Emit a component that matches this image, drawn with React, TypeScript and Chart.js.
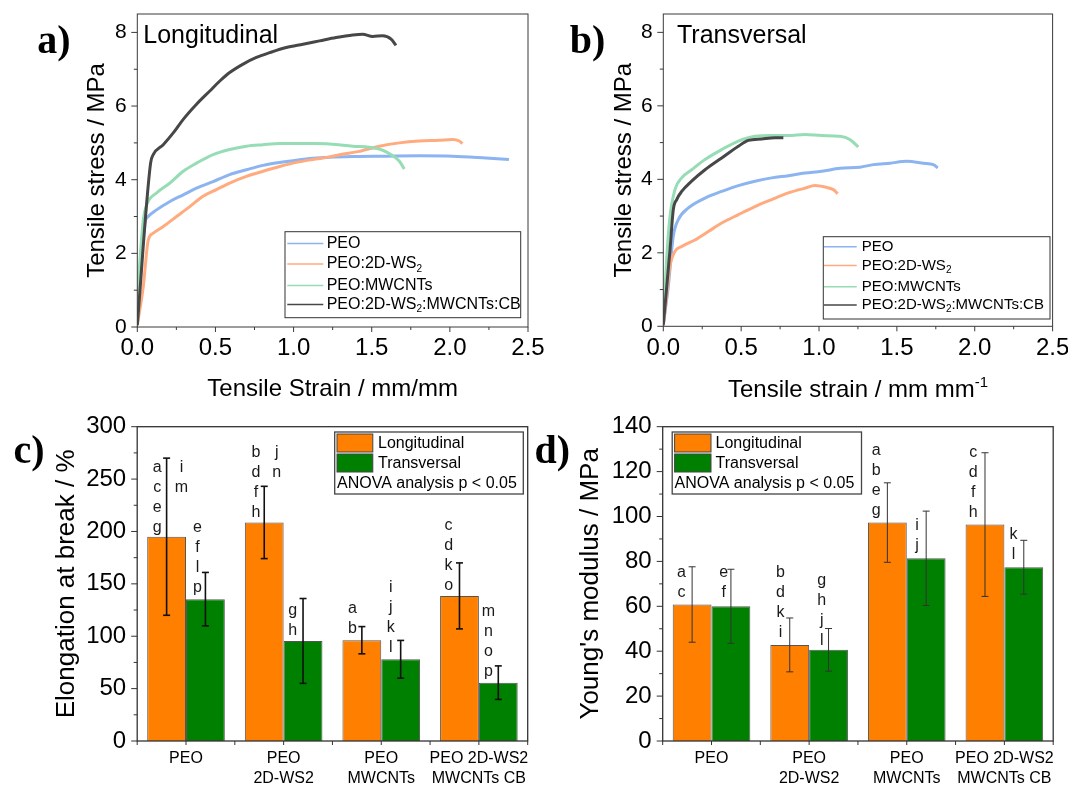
import React, { useEffect, useRef } from 'react';
import { Chart, registerables } from 'chart.js';

Chart.register(...registerables);

const SANS = "'Liberation Sans', Arial, Helvetica, sans-serif";
const SERIF = "'Liberation Serif', 'Times New Roman', Times, serif";
Chart.defaults.font.family = SANS;
Chart.defaults.color = '#000';

// ---------- Panels a & b : stress-strain curves [strain (mm/mm), stress (MPa)] ----------
const seriesNames = ['PEO', 'PEO:2D-WS2', 'PEO:MWCNTs', 'PEO:2D-WS2:MWCNTs:CB'];

const aPEO: number[][] = [[0, 0.27], [0.049, 2.82], [0.07, 3.0], [0.123, 3.18], [0.209, 3.41], [0.294, 3.59], [0.379, 3.77], [0.485, 3.95], [0.591, 4.14], [0.698, 4.27], [0.804, 4.39], [0.911, 4.47], [1.017, 4.53], [1.123, 4.58], [1.23, 4.61], [1.379, 4.63], [1.59, 4.64], [1.804, 4.65], [2.017, 4.64], [2.23, 4.59], [2.378, 4.55]];
const aWS2: number[][] = [[0, 0.05], [0.038, 1.09], [0.07, 2.36], [0.102, 2.55], [0.166, 2.73], [0.251, 3.0], [0.336, 3.27], [0.421, 3.55], [0.506, 3.73], [0.591, 3.91], [0.698, 4.09], [0.804, 4.23], [0.911, 4.36], [1.017, 4.47], [1.123, 4.55], [1.23, 4.62], [1.294, 4.68], [1.421, 4.77], [1.549, 4.91], [1.677, 5.0], [1.804, 5.05], [1.932, 5.07], [2.017, 5.09], [2.06, 5.05], [2.08, 4.98]];
const aMW: number[][] = [[0, 0.8], [0.02, 2.0], [0.038, 2.9], [0.06, 3.32], [0.123, 3.64], [0.209, 3.91], [0.294, 4.23], [0.379, 4.45], [0.485, 4.68], [0.591, 4.82], [0.698, 4.91], [0.804, 4.95], [0.911, 4.98], [1.017, 4.98], [1.123, 4.98], [1.23, 4.97], [1.379, 4.91], [1.485, 4.88], [1.57, 4.8], [1.624, 4.68], [1.677, 4.5], [1.708, 4.29]];
const aCB: number[][] = [[0, 0.05], [0.085, 4.45], [0.102, 4.68], [0.166, 4.95], [0.23, 5.27], [0.294, 5.64], [0.379, 6.05], [0.464, 6.41], [0.528, 6.68], [0.591, 6.91], [0.677, 7.14], [0.762, 7.32], [0.847, 7.45], [0.953, 7.59], [1.06, 7.68], [1.166, 7.77], [1.272, 7.86], [1.379, 7.93], [1.442, 7.95], [1.506, 7.89], [1.57, 7.91], [1.624, 7.82], [1.655, 7.65]];

const bPEO: number[][] = [[0, 0.04], [0.032, 1.08], [0.064, 2.45], [0.096, 2.9], [0.161, 3.22], [0.268, 3.49], [0.375, 3.67], [0.482, 3.83], [0.589, 3.95], [0.696, 4.04], [0.803, 4.1], [0.91, 4.17], [1.017, 4.22], [1.135, 4.3], [1.263, 4.33], [1.349, 4.4], [1.456, 4.44], [1.563, 4.49], [1.67, 4.44], [1.734, 4.4], [1.762, 4.31]];
const bWS2: number[][] = [[0, 0.01], [0.021, 0.81], [0.043, 1.63], [0.075, 2.04], [0.118, 2.17], [0.203, 2.35], [0.289, 2.58], [0.375, 2.81], [0.482, 3.04], [0.589, 3.26], [0.696, 3.45], [0.803, 3.63], [0.91, 3.76], [0.974, 3.83], [1.039, 3.79], [1.092, 3.72], [1.12, 3.61]];
const bMW: number[][] = [[0, 0.08], [0.021, 1.81], [0.043, 2.99], [0.075, 3.72], [0.118, 4.04], [0.182, 4.26], [0.268, 4.54], [0.375, 4.81], [0.482, 5.04], [0.589, 5.17], [0.696, 5.19], [0.803, 5.19], [0.91, 5.22], [1.017, 5.19], [1.135, 5.17], [1.2, 5.08], [1.252, 4.88]];
const bCB: number[][] = [[0, 0.04], [0.043, 2.08], [0.064, 3.17], [0.086, 3.45], [0.118, 3.67], [0.182, 3.95], [0.268, 4.26], [0.375, 4.58], [0.482, 4.9], [0.546, 5.06], [0.632, 5.1], [0.717, 5.13], [0.771, 5.13]];

const xTicksAB = [0, 0.5, 1, 1.5, 2, 2.5];
const xTickLabelsAB = ['0.0', '0.5', '1.0', '1.5', '2.0', '2.5'];
const xMinorAB = [0.25, 0.75, 1.25, 1.75, 2.25];
const yTicksAB = [0, 2, 4, 6, 8];
const yTickLabelsAB = ['0', '2', '4', '6', '8'];
const yMinorAB = [1, 3, 5, 7];

// ---------- Panels c & d : bar charts ----------
const categories = [['PEO'], ['PEO', '2D-WS2'], ['PEO', 'MWCNTs'], ['PEO 2D-WS2', 'MWCNTs CB']];
const groups = ['Longitudinal', 'Transversal'];

const elongLong = [195, 208.6, 96.2, 138.5];
const elongLongErr = [75, 34.5, 13, 31.5];
const elongTrans = [135.4, 95.5, 78, 55.7];
const elongTransErr = [25.5, 40.5, 18, 16];

const modLong = [60.8, 42.8, 97.3, 96.4];
const modLongErr = [16.8, 12, 17.7, 32];
const modTrans = [60.0, 40.6, 81.4, 77.4];
const modTransErr = [16.5, 9.5, 21, 12];

const yTicksC = [0, 50, 100, 150, 200, 250, 300];
const yMinorC = [25, 75, 125, 175, 225, 275];
const yTicksD = [0, 20, 40, 60, 80, 100, 120, 140];
const yMinorD = [10, 30, 50, 70, 90, 110, 130];
const catTickPos = [-0.5, 0, 0.5, 1, 1.5, 2, 2.5, 3, 3.5];

// ANOVA letters: x in category units, y (first letter) in value units
const lettersC = [
  { x: -0.294, y: 261, t: ['a', 'c', 'e', 'g'] },
  { x: -0.046, y: 261, t: ['i', 'm'] },
  { x: 0.117, y: 203.5, t: ['e', 'f', 'l', 'p'] },
  { x: 0.717, y: 275, t: ['b', 'd', 'f', 'h'] },
  { x: 0.93, y: 275, t: ['j', 'n'] },
  { x: 1.094, y: 124.5, t: ['g', 'h'] },
  { x: 1.704, y: 126, t: ['a', 'b'] },
  { x: 2.098, y: 146, t: ['i', 'j', 'k', 'l'] },
  { x: 2.69, y: 205.4, t: ['c', 'd', 'k', 'o'] },
  { x: 3.098, y: 123.5, t: ['m', 'n', 'o', 'p'] },
];
const lettersD = [
  { x: -0.308, y: 74.8, t: ['a', 'c'] },
  { x: 0.124, y: 74.8, t: ['e', 'f'] },
  { x: 0.706, y: 74.8, t: ['b', 'd', 'k', 'i'] },
  { x: 1.129, y: 71.3, t: ['g', 'h', 'j', 'l'] },
  { x: 1.686, y: 129.3, t: ['a', 'b', 'e', 'g'] },
  { x: 2.105, y: 95.9, t: ['i', 'j'] },
  { x: 2.681, y: 128.3, t: ['c', 'd', 'f', 'h'] },
  { x: 3.093, y: 91.8, t: ['k', 'l'] },
];

const curveColors = ['#8cb4f0', '#ffab7f', '#96dcb4', '#474747'];
const barColors = ['#ff7f00', '#008000'];

// ---------- helpers ----------
type Seg = { t: string; k?: 'sub' | 'sup' };

function toSegs(name: string): Seg[] {
  const parts = name.split(/(?<=WS)2/);
  const out: Seg[] = [];
  parts.forEach((p, i) => {
    if (p) out.push({ t: p });
    if (i < parts.length - 1) out.push({ t: '2', k: 'sub' });
  });
  return out;
}

function drawRich(ctx: CanvasRenderingContext2D, segs: Seg[], x: number, y: number, size: number, align: 'left' | 'center', baseline: CanvasTextBaseline) {
  const fN = `${size}px ${SANS}`;
  const fS = `${Math.round(size * 0.64)}px ${SANS}`;
  let total = 0;
  const ws = segs.map((s) => {
    ctx.font = s.k ? fS : fN;
    const w = ctx.measureText(s.t).width;
    total += w;
    return w;
  });
  let cx = align === 'center' ? x - total / 2 : x;
  ctx.textAlign = 'left';
  ctx.textBaseline = baseline;
  segs.forEach((s, i) => {
    ctx.font = s.k ? fS : fN;
    const dy = s.k === 'sub' ? size * 0.3 : s.k === 'sup' ? -size * 0.42 : 0;
    ctx.fillText(s.t, cx, y + dy);
    cx += ws[i];
  });
}

function seg(ctx: CanvasRenderingContext2D, x1: number, y1: number, x2: number, y2: number) {
  ctx.beginPath();
  ctx.moveTo(x1, y1);
  ctx.lineTo(x2, y2);
  ctx.stroke();
}

function fix(dim: 'width' | 'height', size: number) {
  return (s: any) => {
    s[dim] = size;
    s.paddingLeft = 0;
    s.paddingRight = 0;
    s.paddingTop = 0;
    s.paddingBottom = 0;
  };
}

type FrameCfg = {
  lw: number; color: string;
  yMajor: number[]; yMinor: number[]; xMajor: number[]; xMinor: number[];
  yMaj: number; yMin: number; xMaj: number; xMin: number;
};

function drawFrame(chart: any, c: FrameCfg) {
  const { ctx, chartArea: a, scales } = chart;
  ctx.save();
  ctx.strokeStyle = c.color;
  ctx.lineWidth = c.lw;
  ctx.strokeRect(a.left, a.top, a.right - a.left, a.bottom - a.top);
  ctx.lineWidth = 1;
  c.yMajor.forEach((v) => { const p = scales.y.getPixelForValue(v); seg(ctx, a.left - c.yMaj, p, a.left, p); });
  c.yMinor.forEach((v) => { const p = scales.y.getPixelForValue(v); seg(ctx, a.left - c.yMin, p, a.left, p); });
  c.xMajor.forEach((v) => { const p = scales.x.getPixelForValue(v); seg(ctx, p, a.bottom, p, a.bottom + c.xMaj); });
  c.xMinor.forEach((v) => { const p = scales.x.getPixelForValue(v); seg(ctx, p, a.bottom, p, a.bottom + c.xMin); });
  ctx.restore();
}

function drawYTitle(ctx: CanvasRenderingContext2D, text: string, xBase: number, yc: number, size: number) {
  ctx.save();
  ctx.translate(xBase, yc);
  ctx.rotate(-Math.PI / 2);
  ctx.font = `${size}px ${SANS}`;
  ctx.fillStyle = '#000';
  ctx.textAlign = 'center';
  ctx.textBaseline = 'alphabetic';
  ctx.fillText(text, 0, 0);
  ctx.restore();
}

function drawPanelLabel(ctx: CanvasRenderingContext2D, text: string, x: number, y: number) {
  ctx.save();
  ctx.font = `bold 40px ${SERIF}`;
  ctx.fillStyle = '#000';
  ctx.textAlign = 'left';
  ctx.textBaseline = 'alphabetic';
  ctx.fillText(text, x, y);
  ctx.restore();
}

// ---------- curve panels ----------
type CurveGeo = {
  top: number; right: number; yw: number; xh: number;
  label: string; labelX: number; tag: string; tagX: number;
  yTitle: string; yTitleX: number; xTitle: Seg[]; xTitleY: number;
  legend: { box: number[]; rows: number[]; lineX: number[]; textX: number; size: number };
};

function curveDeco(g: CurveGeo) {
  return {
    id: 'curveDeco',
    afterDraw(chart: any) {
      const { ctx, chartArea: a } = chart;
      drawFrame(chart, { lw: 1, color: '#3a3a3a', yMajor: yTicksAB, yMinor: yMinorAB, xMajor: xTicksAB, xMinor: xMinorAB, yMaj: 6, yMin: 3.5, xMaj: 5, xMin: 3 });
      // legend
      const L = g.legend;
      ctx.save();
      ctx.fillStyle = '#fff';
      ctx.fillRect(L.box[0], L.box[1], L.box[2] - L.box[0], L.box[3] - L.box[1]);
      ctx.strokeStyle = '#333';
      ctx.lineWidth = 1;
      ctx.strokeRect(L.box[0], L.box[1], L.box[2] - L.box[0], L.box[3] - L.box[1]);
      seriesNames.forEach((name, i) => {
        ctx.strokeStyle = curveColors[i];
        ctx.lineWidth = 1.6;
        seg(ctx, L.lineX[0], L.rows[i], L.lineX[1], L.rows[i]);
        ctx.fillStyle = '#000';
        drawRich(ctx, toSegs(name), L.textX, L.rows[i], L.size, 'left', 'middle');
      });
      ctx.restore();
      // in-plot tag
      ctx.save();
      ctx.font = `25px ${SANS}`;
      ctx.fillStyle = '#000';
      ctx.textAlign = 'left';
      ctx.textBaseline = 'alphabetic';
      ctx.fillText(g.tag, g.tagX, 43);
      ctx.restore();
      // titles
      drawYTitle(ctx, g.yTitle, g.yTitleX, (a.top + a.bottom) / 2, 24);
      ctx.save();
      ctx.fillStyle = '#000';
      drawRich(ctx, g.xTitle, (a.left + a.right) / 2, g.xTitleY, 24, 'center', 'alphabetic');
      ctx.restore();
      drawPanelLabel(ctx, g.label, g.labelX, 53.3);
    },
  };
}

function curveConfig(curves: number[][][], g: CurveGeo): any {
  return {
    type: 'line',
    data: {
      datasets: curves.map((pts, i) => ({
        label: seriesNames[i],
        data: pts.map(([x, y]) => ({ x, y })),
        borderColor: curveColors[i],
        backgroundColor: curveColors[i],
        borderWidth: 3,
        pointRadius: 0,
        cubicInterpolationMode: 'monotone',
        fill: false,
        order: curves.length - 1 - i,
      })),
    },
    options: {
      responsive: false,
      animation: false,
      events: [],
      layout: { padding: { left: 0, top: g.top, right: g.right, bottom: 0 } },
      plugins: { legend: { display: false }, tooltip: { enabled: false } },
      scales: {
        x: {
          type: 'linear', min: 0, max: 2.5,
          grid: { display: false, drawTicks: false }, border: { display: false },
          ticks: { autoSkip: false, maxRotation: 0, padding: 7.3, font: { size: 24 }, color: '#000', callback: (_v: any, i: number) => xTickLabelsAB[i] },
          afterBuildTicks: (s: any) => { s.ticks = xTicksAB.map((value) => ({ value })); },
          afterFit: fix('height', g.xh),
        },
        y: {
          type: 'linear', min: 0, max: 8.5,
          grid: { display: false, drawTicks: false }, border: { display: false },
          ticks: { autoSkip: false, padding: 10.5, font: { size: 21 }, color: '#000', callback: (_v: any, i: number) => yTickLabelsAB[i] },
          afterBuildTicks: (s: any) => { s.ticks = yTicksAB.map((value) => ({ value })); },
          afterFit: fix('width', g.yw),
        },
      },
    },
    plugins: [curveDeco(g)],
  };
}

// ---------- bar panels ----------
type BarGeo = {
  right: number; yw: number; max: number; yTicks: number[]; yMinor: number[];
  label: string; labelX: number; yTitle: string; yTitleX: number;
  vals: number[][]; errs: number[][]; letters: { x: number; y: number; t: string[] }[];
  errColor: string; errWidth: number;
  legend: { box: number[]; swX: number[]; textX: number };
};

function barDeco(g: BarGeo) {
  return {
    id: 'barDeco',
    afterDraw(chart: any) {
      const { ctx, chartArea: a, scales } = chart;
      // error bars
      ctx.save();
      ctx.strokeStyle = g.errColor;
      ctx.lineWidth = g.errWidth;
      [0, 1].forEach((d) => {
        chart.getDatasetMeta(d).data.forEach((bar: any, i: number) => {
          const x = bar.x;
          const yt = scales.y.getPixelForValue(g.vals[d][i] + g.errs[d][i]);
          const yb = scales.y.getPixelForValue(g.vals[d][i] - g.errs[d][i]);
          seg(ctx, x, yt, x, yb);
          seg(ctx, x - 3.5, yt, x + 3.5, yt);
          seg(ctx, x - 3.5, yb, x + 3.5, yb);
        });
      });
      ctx.restore();
      // letters
      ctx.save();
      ctx.font = `16px ${SANS}`;
      ctx.fillStyle = '#1a1a1a';
      ctx.textAlign = 'center';
      ctx.textBaseline = 'middle';
      g.letters.forEach((L) => {
        const x = scales.x.getPixelForValue(L.x);
        const y0 = scales.y.getPixelForValue(L.y);
        L.t.forEach((ch, j) => ctx.fillText(ch, x, y0 + j * 20));
      });
      ctx.restore();
      drawFrame(chart, { lw: 1.3, color: '#333', yMajor: g.yTicks, yMinor: g.yMinor, xMajor: catTickPos, xMinor: [], yMaj: 6, yMin: 3.5, xMaj: 4, xMin: 0 });
      // legend
      const B = g.legend;
      ctx.save();
      ctx.fillStyle = '#fff';
      ctx.fillRect(B.box[0], B.box[1], B.box[2] - B.box[0], B.box[3] - B.box[1]);
      ctx.strokeStyle = '#444';
      ctx.lineWidth = 1.3;
      ctx.strokeRect(B.box[0], B.box[1], B.box[2] - B.box[0], B.box[3] - B.box[1]);
      groups.forEach((name, i) => {
        const y0 = B.box[1] + 2 + i * 20;
        ctx.fillStyle = barColors[i];
        ctx.fillRect(B.swX[0], y0, B.swX[1] - B.swX[0], 18);
        ctx.strokeStyle = '#444';
        ctx.lineWidth = 1;
        ctx.strokeRect(B.swX[0], y0, B.swX[1] - B.swX[0], 18);
        ctx.fillStyle = '#000';
        ctx.font = `16px ${SANS}`;
        ctx.textAlign = 'left';
        ctx.textBaseline = 'middle';
        ctx.fillText(name, B.textX, y0 + 9.5);
      });
      ctx.fillText('ANOVA analysis p < 0.05', B.swX[0], B.box[1] + 51.5);
      ctx.restore();
      drawYTitle(ctx, g.yTitle, g.yTitleX, (a.top + a.bottom) / 2, 26);
      drawPanelLabel(ctx, g.label, g.labelX, 63.3);
    },
  };
}

function barConfig(g: BarGeo): any {
  return {
    type: 'bar',
    data: {
      labels: categories,
      datasets: [0, 1].map((d) => ({
        label: groups[d],
        data: g.vals[d],
        backgroundColor: barColors[d],
        borderColor: '#555',
        borderWidth: 1,
        categoryPercentage: 0.795,
        barPercentage: 1,
      })),
    },
    options: {
      responsive: false,
      animation: false,
      events: [],
      layout: { padding: { left: 0, top: 26.7, right: g.right, bottom: 0 } },
      plugins: { legend: { display: false }, tooltip: { enabled: false } },
      scales: {
        x: {
          grid: { display: false, drawTicks: false }, border: { display: false },
          ticks: { autoSkip: false, maxRotation: 0, padding: 7.3, font: { size: 16, lineHeight: 1.25 }, color: '#000' },
          afterFit: fix('height', 46),
        },
        y: {
          type: 'linear', min: 0, max: g.max,
          grid: { display: false, drawTicks: false }, border: { display: false },
          ticks: { autoSkip: false, padding: 11, font: { size: 24 }, color: '#000', callback: (v: any) => String(v) },
          afterBuildTicks: (s: any) => { s.ticks = g.yTicks.map((value) => ({ value })); },
          afterFit: fix('width', g.yw),
        },
      },
    },
    plugins: [barDeco(g)],
  };
}

const geoA: CurveGeo = {
  top: 14, right: 32, yw: 137.3, xh: 73,
  label: 'a)', labelX: 37.3, tag: 'Longitudinal', tagX: 143.3,
  yTitle: 'Tensile stress / MPa', yTitleX: 104.2,
  xTitle: [{ t: 'Tensile Strain / mm/mm' }], xTitleY: 395.5,
  legend: { box: [285, 231.7, 520.7, 317.7], rows: [243.5, 264, 285.5, 304.5], lineX: [287.3, 323.3], textX: 326.7, size: 16 },
};
const geoB: CurveGeo = {
  top: 14, right: 15.4, yw: 129.3, xh: 73.7,
  label: 'b)', labelX: 35.8, tag: 'Transversal', tagX: 143,
  yTitle: 'Tensile stress / MPa', yTitleX: 97.2,
  xTitle: [{ t: 'Tensile strain / mm mm' }, { t: '-1', k: 'sup' }], xTitleY: 397,
  legend: { box: [289.3, 236.7, 516, 319], rows: [246.7, 265.5, 286.7, 305], lineX: [290, 322.7], textX: 327.7, size: 15 },
};
const geoC: BarGeo = {
  right: 6.3, yw: 137.2, max: 300, yTicks: yTicksC, yMinor: yMinorC,
  label: 'c)', labelX: 13.6, yTitle: 'Elongation at break / %', yTitleX: 73.5,
  vals: [elongLong, elongTrans], errs: [elongLongErr, elongTransErr], letters: lettersC,
  errColor: '#111', errWidth: 1.6,
  legend: { box: [334.7, 32, 523.3, 94], swX: [337, 372.8], textX: 378 },
};
const geoD: BarGeo = {
  right: 14.8, yw: 128.7, max: 140, yTicks: yTicksD, yMinor: yMinorD,
  label: 'd)', labelX: 0.5, yTitle: "Young's modulus / MPa", yTitleX: 64,
  vals: [modLong, modTrans], errs: [modLongErr, modTransErr], letters: lettersD,
  errColor: '#333', errWidth: 1,
  legend: { box: [138.2, 32, 327.5, 94], swX: [140.6, 177], textX: 181.5 },
};

function Panel({ left, top, width, height, make }: { left: number; top: number; width: number; height: number; make: () => any }) {
  const ref = useRef<HTMLCanvasElement>(null);
  useEffect(() => {
    const chart = new Chart(ref.current as HTMLCanvasElement, make());
    return () => chart.destroy();
  }, []);
  return <canvas ref={ref} width={width} height={height} style={{ position: 'absolute', left, top, width, height }} />;
}

export default function App() {
  return (
    <div style={{ position: 'absolute', left: 0, top: 0, width: 1068, height: 787, background: '#fff', overflow: 'hidden' }}>
      <Panel left={0} top={0} width={560} height={400} make={() => curveConfig([aPEO, aWS2, aMW, aCB], geoA)} />
      <Panel left={534} top={0} width={534} height={400} make={() => curveConfig([bPEO, bWS2, bMW, bCB], geoB)} />
      <Panel left={0} top={400} width={534} height={387} make={() => barConfig(geoC)} />
      <Panel left={534} top={400} width={534} height={387} make={() => barConfig(geoD)} />
    </div>
  );
}
